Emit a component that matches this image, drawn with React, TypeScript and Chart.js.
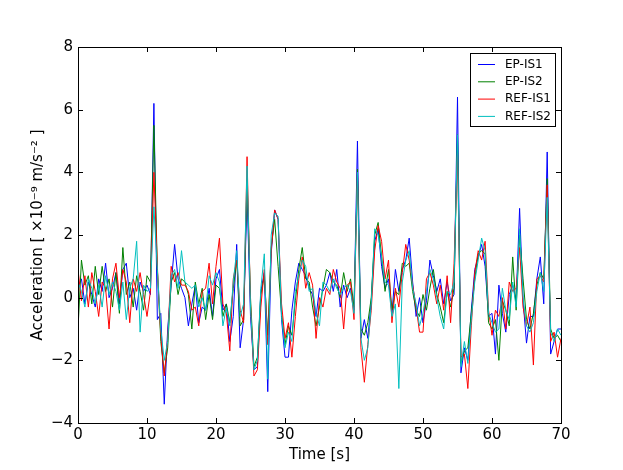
import React, { useEffect, useRef } from 'react';
import { Chart, registerables } from 'chart.js';

Chart.register(...registerables);

// sampling step of the records [s]
const step = 0.5;

const seriesLabels = ['EP-IS1', 'EP-IS2', 'REF-IS1', 'REF-IS2'];
const seriesColors = ['#0000ff', '#008000', '#ff0000', '#00bfbf'];

// acceleration [1e-9 m/s^2], t = 0, 0.5, ... 70 s
const epIs1 = [
  0.3, 0.6, -0.2, 0.5, 0.1, -0.3, 0.6, 0.2, 1.1, 0.0, 0.3, 0.8, -0.2, 0.9, 1.1, 0.0, 0.3, -0.4, 0.5, 0.2, 0.4, 0.1,
  6.2, -0.7, -0.5, -3.4, -1.0, 0.4, 1.7, 0.6, 0.3, 0.0, -0.9, -0.2, 0.4, -0.8, -0.3, -0.4, 0.3, -0.6, 0.6, 0.9, -0.4, -0.2, -1.4, -0.6, 1.7, -1.6, -0.7,
  3.3, -0.6, -2.3, -2.2, 0.2, 0.8, -3.0, 1.4, 2.8, 2.5, -0.7, -1.9, -1.9, -0.4, 0.5, 1.1, 0.9, 0.7, 0.3, 0.1, -0.6, 0.3, 0.2,
  0.4, 0.8, 0.2, 0.9, -0.3, 0.4, 0.0, 0.3, -0.4, 5.0, -1.3, -0.7, -1.3, -0.1, 1.8, 2.2, 1.0, 0.3, 0.6, -0.5, 0.9, 0.2, 0.9,
  1.2, 1.9, 0.5, -0.6, 0.0, -0.8, -0.1, 1.2, 0.7, 0.2, 0.6, -0.2, 0.5, -0.1, 0.1, 6.4, -2.4, -1.6, -2.0, -0.4, 0.9, 1.3, 1.7,
  1.0, -0.6, -0.5, -1.8, 0.4, -0.5, -1.1, 0.1, 0.4, -0.1, 2.85, -0.1, -1.45, -0.6, -0.6, 0.6, 1.3, -0.2, 4.65, -1.8, -1.4, -1.0, -1.0,
];
const epIs2 = [
  -1.0, 1.2, 0.4, 0.7, -0.2, 1.0, 0.1, 1.0, 0.2, 0.6, -0.3, 0.8, -0.5, 1.6, 0.1, 0.5, -0.3, 0.7, 0.2, -0.4, 0.7, 0.5,
  5.5, 0.9, -1.4, -2.4, -1.6, 0.5, 0.8, 0.1, 0.6, 0.5, 0.1, -1.0, 0.5, -0.2, 0.3, -0.7, 0.1, -0.7, 0.4, 0.3, -0.6, -0.2, -0.8, 0.3, 1.2, -0.9, -0.7,
  3.8, 0.0, -2.2, -1.9, 0.1, 0.7, -1.2, 1.6, 2.5, 1.0, -0.5, -1.5, -0.9, -1.2, -0.1, 0.9, 1.6, 0.6, 0.5, -0.3, -0.9, -0.3, 0.3,
  0.9, 0.8, 0.5, 0.4, 0.0, 0.8, 0.2, 0.6, -0.3, 4.1, -1.0, -1.2, -0.8, 0.0, 2.0, 2.4, 1.3, 0.2, 0.9, -0.4, 0.2, 0.1, 1.1,
  1.0, 1.1, 0.2, -0.4, -0.6, 0.1, -0.4, 0.3, 0.9, 0.1, -0.3, -0.8, 0.2, -0.3, 0.3, 5.2, -2.1, -1.7, -1.6, -0.5, 0.6, 1.4, 1.5,
  1.4, -0.8, -1.0, -0.7, -2.0, -0.1, -0.4, -0.9, 1.3, -0.4, 2.0, 0.6, -0.7, -1.0, -0.5, 0.4, 0.8, 0.6, 3.8, -1.0, -1.3, -1.2, -1.4,
];
const refIs1 = [
  0.9, -0.1, 0.7, -0.3, 0.8, 0.2, -0.6, 0.5, 0.3, -1.0, 0.6, 1.1, 0.0, 0.9, 0.5, -0.8, 0.6, 0.2, 0.8, 0.1, -0.6, 0.2,
  4.0, 1.0, -1.2, -2.5, -1.3, 1.0, 0.5, 0.8, 0.4, 0.4, 0.2, -0.4, -0.3, -0.9, 0.2, 0.3, 1.1, -0.2, 1.0, 1.9, -0.2, -0.5, -1.7, 0.6, 1.2, -0.4, -0.8,
  4.5, -0.2, -2.5, -2.3, -0.3, 0.9, -1.5, 1.5, 2.8, 2.5, -0.2, -1.3, -0.8, -1.9, -0.6, 0.6, 1.3, 0.3, 0.8, 0.4, -1.3, 0.0, -0.3,
  0.3, 0.1, 0.9, 0.5, 0.3, -1.0, 0.4, 0.5, -0.7, 4.0, -1.6, -2.7, -1.5, -0.4, 1.5, 2.3, 1.8, 0.6, 1.2, -0.8, 0.3, -0.3, 0.8,
  1.7, 1.2, 0.4, -0.3, -1.1, -1.1, 0.6, 0.8, 0.4, -0.2, 0.4, -0.4, 0.7, -0.8, 1.1, 4.6, -1.9, -1.8, -2.9, -0.9, 0.8, 1.5, 1.2,
  1.8, -0.4, -1.2, -0.4, -0.6, 0.0, -1.0, 0.5, 0.2, 0.3, 1.6, -0.3, -0.9, -0.3, -2.15, 0.6, 0.7, 0.5, 3.6, -1.4, -1.1, -1.9, -1.3,
];
const refIs2 = [
  0.5, 0.2, -0.3, 0.6, 0.3, -0.2, 0.4, -0.3, 0.7, 0.1, 0.5, 0.2, -0.4, 0.5, -0.7, 0.3, 0.6, 1.8, -1.1, 0.4, 0.2, 0.3,
  2.9, 0.9, -1.0, -2.0, -1.4, 0.7, 0.9, 0.3, 1.5, 0.5, 0.4, 0.3, 0.4, -0.3, 0.0, -0.4, 0.7, 0.4, 0.8, 0.5, -0.9, -0.3, -0.9, 0.5, 1.5, -0.6, -0.2,
  4.2, -0.3, -2.3, -2.0, 0.3, 1.4, -2.6, 2.0, 2.7, 2.6, -0.6, -1.6, -1.1, -1.4, 0.2, 0.7, 1.2, 1.0, 0.2, 0.3, -0.5, -0.9, 0.5,
  0.4, 0.2, 0.6, 0.3, 0.1, 0.3, 0.4, 0.2, -0.5, 4.0, -1.3, -2.0, -1.6, -0.2, 2.2, 2.0, 1.3, 0.5, 0.4, -0.6, -0.2, -2.9, 0.5,
  1.2, 1.5, 0.3, -0.2, -0.9, -0.5, 0.2, 0.9, 0.6, 0.0, -0.6, -1.0, 0.2, 0.1, 0.5, 5.2, -2.2, -1.4, -2.1, -0.7, 0.5, 1.2, 1.9,
  1.5, -0.5, -0.8, -1.1, -1.0, 0.3, -0.4, -0.7, 0.5, -0.3, 2.2, 0.0, -0.9, -1.1, -0.8, 0.2, 0.8, 0.2, 3.2, -1.1, -1.4, -1.0, -1.2,
];
const seriesValues = [epIs1, epIs2, refIs1, refIs2];

const xTicks = [0, 10, 20, 30, 40, 50, 60, 70];
const yTicks = [-4, -2, 0, 2, 4, 6, 8];

const minus = (v: number) => (v < 0 ? '\u2212' + Math.abs(v) : String(v));

// matplotlib-like frame with inward ticks on all sides, and the legend box
const framePlugin = {
  id: 'frame',
  afterDraw(chart: any) {
    const { ctx, chartArea: a, scales } = chart;
    const tl = 5;
    ctx.save();
    ctx.strokeStyle = '#000';
    ctx.lineWidth = 1;
    ctx.beginPath();
    xTicks.forEach((v) => {
      const px = Math.round(scales.x.getPixelForValue(v)) + 0.5;
      ctx.moveTo(px, a.bottom);
      ctx.lineTo(px, a.bottom - tl);
      ctx.moveTo(px, a.top);
      ctx.lineTo(px, a.top + tl);
    });
    yTicks.forEach((v) => {
      const py = Math.round(scales.y.getPixelForValue(v)) + 0.5;
      ctx.moveTo(a.left, py);
      ctx.lineTo(a.left + tl, py);
      ctx.moveTo(a.right, py);
      ctx.lineTo(a.right - tl, py);
    });
    ctx.stroke();
    ctx.strokeRect(Math.round(a.left) + 0.5, Math.round(a.top) + 0.5, Math.round(a.right - a.left), Math.round(a.bottom - a.top));

    // legend
    const bx = 470.5, by = 53.5, bw = 85, bh = 73;
    ctx.fillStyle = '#fff';
    ctx.fillRect(bx, by, bw, bh);
    ctx.strokeRect(bx, by, bw, bh);
    ctx.font = "12px 'DejaVu Sans'";
    ctx.textBaseline = 'middle';
    chart.data.datasets.forEach((ds: any, i: number) => {
      const y = 64.5 + i * 17.3;
      ctx.strokeStyle = ds.borderColor;
      ctx.beginPath();
      ctx.moveTo(478, y);
      ctx.lineTo(495, y);
      ctx.stroke();
      ctx.fillStyle = '#000';
      ctx.fillText(ds.label, 505, y);
    });
    ctx.restore();
  },
};

const AccelerationChart = () => {
  const canvasRef = useRef<HTMLCanvasElement>(null);

  useEffect(() => {
    if (!canvasRef.current) return;
    Chart.defaults.font.family = "'DejaVu Sans', sans-serif";
    Chart.defaults.color = '#000';

    const chart = new Chart(canvasRef.current, {
      type: 'line',
      data: {
        datasets: seriesValues.map((vals, i) => ({
          label: seriesLabels[i],
          data: vals.map((y, k) => ({ x: k * step, y })),
          borderColor: seriesColors[i],
          borderWidth: 1,
          pointRadius: 0,
          tension: 0,
          fill: false,
          order: seriesValues.length - i, // later series drawn on top
        })),
      },
      options: {
        responsive: false,
        animation: false,
        layout: { padding: { top: 47, right: 62, left: 0, bottom: 0 } },
        plugins: { legend: { display: false }, tooltip: { enabled: false } },
        scales: {
          x: {
            type: 'linear',
            min: 0,
            max: 70,
            afterFit: (s: any) => { s.height = 47; },
            afterBuildTicks: (s: any) => { s.ticks = xTicks.map((value) => ({ value })); },
            grid: { display: false, drawTicks: false },
            border: { display: false },
            ticks: { font: { size: 15 }, padding: 3, callback: (v: any) => minus(Number(v)) },
            title: { display: true, text: 'Time [s]', font: { size: 15 }, padding: { top: 0, bottom: 6 } },
          },
          y: {
            min: -4,
            max: 8,
            afterFit: (s: any) => { s.width = 78; },
            afterBuildTicks: (s: any) => { s.ticks = yTicks.map((value) => ({ value })); },
            grid: { display: false, drawTicks: false },
            border: { display: false },
            ticks: { font: { size: 15 }, padding: 5, callback: (v: any) => minus(Number(v)) },
            title: {
              display: true,
              text: 'Acceleration [ \u00d710\u207b\u2079 m/s\u207b\u00b2 ]',
              font: { size: 15 },
              padding: { top: 29, bottom: 0 },
            },
          },
        },
      },
      plugins: [framePlugin],
    });

    return () => {
      chart.destroy();
    };
  }, []);

  return (
    <div style={{ position: 'absolute', left: 0, top: 0, width: 623, height: 470, background: '#fff' }}>
      <canvas ref={canvasRef} width={623} height={470} />
    </div>
  );
};

export default function App() {
  return <AccelerationChart />;
}
